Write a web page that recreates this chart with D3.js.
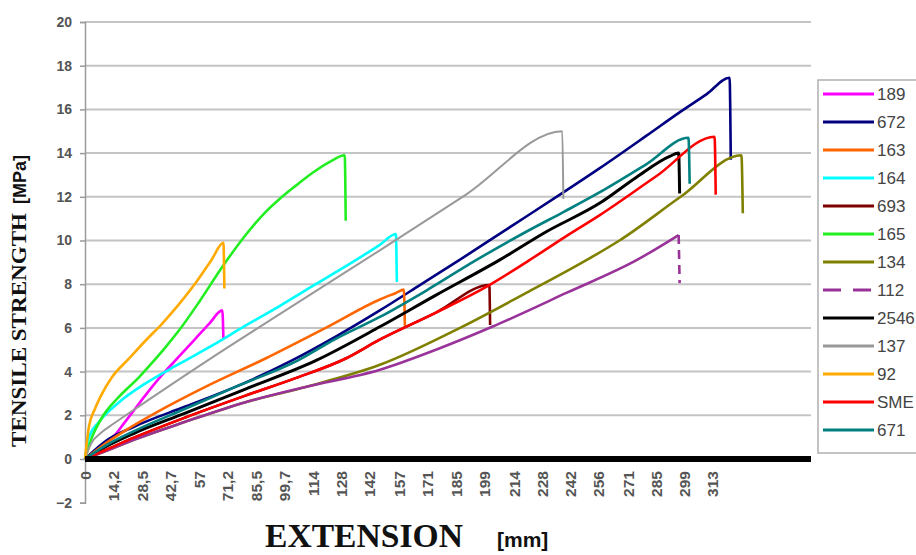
<!DOCTYPE html>
<html><head><meta charset="utf-8">
<script src="https://cdn.jsdelivr.net/npm/d3@7"></script>
<style>body{margin:0;background:#fff}</style>
</head><body>
<svg id="chart" width="916" height="555"></svg>
<script>
// ---- data (extension mm, tensile strength MPa) ----
const seriesNames  = ["189","672","163","164","693","165","134","112","2546","137","92","SME","671"];
const seriesColors = ["#FF00FF","#000080","#FF6600","#00FFFF","#800000","#22EE22","#808000","#993399","#000000","#999999","#FFAA00","#FF0000","#008080"];

const s189  = [[0,0],[8,0.5],[15,1.1],[20,1.7],[25,2.3],[30,2.9],[38,3.8],[46,4.6],[55,5.5],[62,6.2],[68.5,6.8],[69,5.5]];
const s672  = [[0,0],[10,0.8],[25,1.5],[50,2.4],[75,3.3],[103,4.5],[125,5.6],[147,6.8],[166,7.9],[186.6,9.1],[210,10.5],[238.5,12.2],[256.5,13.3],[280,14.8],[297,15.9],[310,16.7],[321.4,17.45],[322,13.7]];
const s163  = [[0,0],[10,0.7],[20,1.3],[35,2.1],[60,3.3],[90,4.6],[120,6.0],[147,7.3],[155,7.6],[159,7.75],[159.5,6.1]];
const s164  = [[0,0],[2,1.0],[7,1.7],[17,2.6],[30,3.45],[47,4.35],[63.5,5.2],[80,6.1],[97,7.0],[115,8.0],[130.5,8.85],[147,9.8],[155,10.3],[155.5,8.1]];
const s693  = [[0,0],[10,0.4],[25,1.0],[50,1.9],[80,2.9],[105,3.7],[130,4.6],[146.7,5.45],[175,6.7],[201.6,7.96],[202,6.13]];
const s165  = [[0,0],[3.5,1.0],[8.5,1.9],[17,2.85],[27,3.75],[33.4,4.4],[40,5.1],[47,5.9],[57,7.2],[68.5,8.8],[80.5,10.3],[90,11.3],[97,11.9],[105,12.5],[113.5,13.1],[122,13.6],[129.5,13.9],[130,10.9]];
const s134  = [[0,0],[10,0.35],[25,0.9],[50,1.7],[80,2.6],[110,3.3],[146.7,4.3],[188,6.05],[220,7.6],[250,9.1],[266.5,10.0],[297,12.0],[327.3,13.9],[328,11.25]];
const s112  = [[0,0],[10,0.35],[25,0.9],[50,1.7],[80,2.6],[110,3.3],[146.7,4.07],[175,5.0],[203,6.05],[240,7.6],[275,9.1],[296,10.25],[296.5,8.05]];
const s2546 = [[0,0],[10,0.55],[25,1.2],[50,2.1],[80,3.2],[115,4.5],[147,6.05],[175,7.5],[206.6,9.1],[230,10.4],[256.5,11.7],[275,12.9],[291.5,13.85],[296,14.0],[296.5,12.15]];
const s137  = [[0,0],[3,0.7],[8,1.2],[14,1.6],[30,2.6],[63.5,4.65],[100,6.8],[147,9.55],[190,12.1],[238,15.0],[238.5,11.9]];
const s92   = [[0,0],[2,1.5],[5,2.3],[8,2.9],[13.5,3.75],[22,4.6],[30,5.4],[38.5,6.2],[47,7.1],[55.5,8.1],[63,9.1],[69,9.9],[69.5,7.8]];
const sSME  = [[0,0],[10,0.4],[25,1.0],[50,1.9],[80,2.9],[105,3.7],[130,4.6],[146.7,5.45],[175,6.7],[201.6,7.96],[221.6,9.1],[240,10.2],[256.5,11.15],[285,12.95],[313.9,14.75],[314.5,12.1]];
const s671  = [[0,0],[10,0.6],[25,1.3],[50,2.3],[75,3.3],[106,4.5],[125,5.5],[147,6.5],[170,7.7],[195,9.1],[220,10.4],[238.5,11.3],[256.5,12.2],[280,13.5],[300.9,14.7],[301.5,12.6]];
const seriesData = [s189,s672,s163,s164,s693,s165,s134,s112,s2546,s137,s92,sSME,s671];

const xTickLabels = ["0","14,2","28,5","42,7","57","71,2","85,5","99,7","114","128","142","157","171","185","199","214","228","242","256","271","285","299","313"];
const yTickValues = [-2,0,2,4,6,8,10,12,14,16,18,20];

// ---- chart ----
const svg = d3.select("#chart");
const x = d3.scaleLinear().domain([0, 362]).range([85, 811]);
const y = d3.scaleLinear().domain([-2, 20]).range([502.7, 22]);

// gridlines
svg.append("g").selectAll("line").data(yTickValues.filter(v => v > 0)).join("line")
  .attr("x1", x(0)).attr("x2", x(362))
  .attr("y1", d => y(d)).attr("y2", d => y(d))
  .attr("stroke", "#c4c4c4").attr("stroke-width", 2);

// y axis
const yAxis = d3.axisLeft(y).tickValues(yTickValues).tickSize(5).tickPadding(8).tickFormat(d3.format("d"));
const yg = svg.append("g").attr("transform", `translate(${x(0)},0)`).call(yAxis);
yg.select(".domain").attr("stroke", "#9a9a9a").attr("stroke-width", 1.5);
yg.selectAll(".tick line").attr("stroke", "#9a9a9a").attr("stroke-width", 1.5);
yg.selectAll(".tick text").attr("font-family", "Liberation Sans, Arial, sans-serif")
  .attr("font-size", 14).attr("font-weight", "bold").attr("fill", "#555");

// series lines
const line = d3.line().x(d => x(d[0])).y(d => y(d[1])).curve(d3.curveMonotoneX);
seriesData.forEach((data, i) => {
  const name = seriesNames[i];
  const w = name === "137" ? 2 : (name === "2546" ? 3 : 2.6);
  if (name === "112") {
    svg.append("path").datum(data.slice(0, -1)).attr("d", line)
      .attr("fill", "none").attr("stroke", seriesColors[i]).attr("stroke-width", w);
    svg.append("path").datum(data.slice(-2)).attr("d", d3.line().x(d => x(d[0])).y(d => y(d[1])))
      .attr("fill", "none").attr("stroke", seriesColors[i]).attr("stroke-width", w)
      .attr("stroke-dasharray", "9,6");
  } else {
    svg.append("path").datum(data).attr("d", line)
      .attr("fill", "none").attr("stroke", seriesColors[i]).attr("stroke-width", w)
      .attr("stroke-linejoin", "round");
  }
});

// thick zero line
svg.append("line").attr("x1", x(0)).attr("x2", x(362)).attr("y1", y(0)).attr("y2", y(0))
  .attr("stroke", "#000").attr("stroke-width", 6);

// x tick labels
svg.append("g").selectAll("text").data(xTickLabels).join("text")
  .attr("transform", d => `translate(${x(parseFloat(d.replace(",", ".")) ) + 5.5},471) rotate(-90)`)
  .attr("text-anchor", "end")
  .attr("font-family", "Liberation Sans, Arial, sans-serif")
  .attr("font-size", 15.5).attr("font-weight", "bold").attr("fill", "#555")
  .text(d => d);

// axis titles
svg.append("text").attr("transform", "translate(26,447) rotate(-90)")
  .attr("font-family", "Liberation Serif, Times New Roman, serif").attr("font-weight", "bold")
  .attr("font-size", 22).attr("fill", "#111").attr("textLength", 234).attr("lengthAdjust", "spacingAndGlyphs")
  .text("TENSILE STRENGTH");
svg.append("text").attr("transform", "translate(26,204) rotate(-90)")
  .attr("font-family", "Liberation Sans, Arial, sans-serif").attr("font-weight", "bold")
  .attr("font-size", 18).attr("fill", "#111")
  .text("[MPa]");
svg.append("text").attr("x", 265).attr("y", 547)
  .attr("font-family", "Liberation Serif, Times New Roman, serif").attr("font-weight", "bold")
  .attr("font-size", 33).attr("fill", "#111")
  .attr("textLength", 198).attr("lengthAdjust", "spacingAndGlyphs")
  .text("EXTENSION");
svg.append("text").attr("x", 497).attr("y", 547)
  .attr("font-family", "Liberation Sans, Arial, sans-serif").attr("font-weight", "bold")
  .attr("font-size", 21).attr("fill", "#111")
  .text("[mm]");

// legend
const lg = svg.append("g");
lg.append("rect").attr("x", 818).attr("y", 80).attr("width", 110).attr("height", 373)
  .attr("fill", "#fff").attr("stroke", "#b0b0b0").attr("stroke-width", 1.5);
const ly = d3.scalePoint().domain(seriesNames).range([94, 430]);
seriesNames.forEach((n, i) => {
  lg.append("line").attr("x1", 823).attr("x2", 874).attr("y1", ly(n)).attr("y2", ly(n))
    .attr("stroke", seriesColors[i]).attr("stroke-width", 3)
    .attr("stroke-dasharray", n === "112" ? "18,12" : null);
  lg.append("text").attr("x", 877).attr("y", ly(n)).attr("dy", "0.36em")
    .attr("font-family", "Liberation Sans, Arial, sans-serif").attr("font-size", 17)
    .attr("fill", "#444").text(n);
});
</script>
</body></html>
